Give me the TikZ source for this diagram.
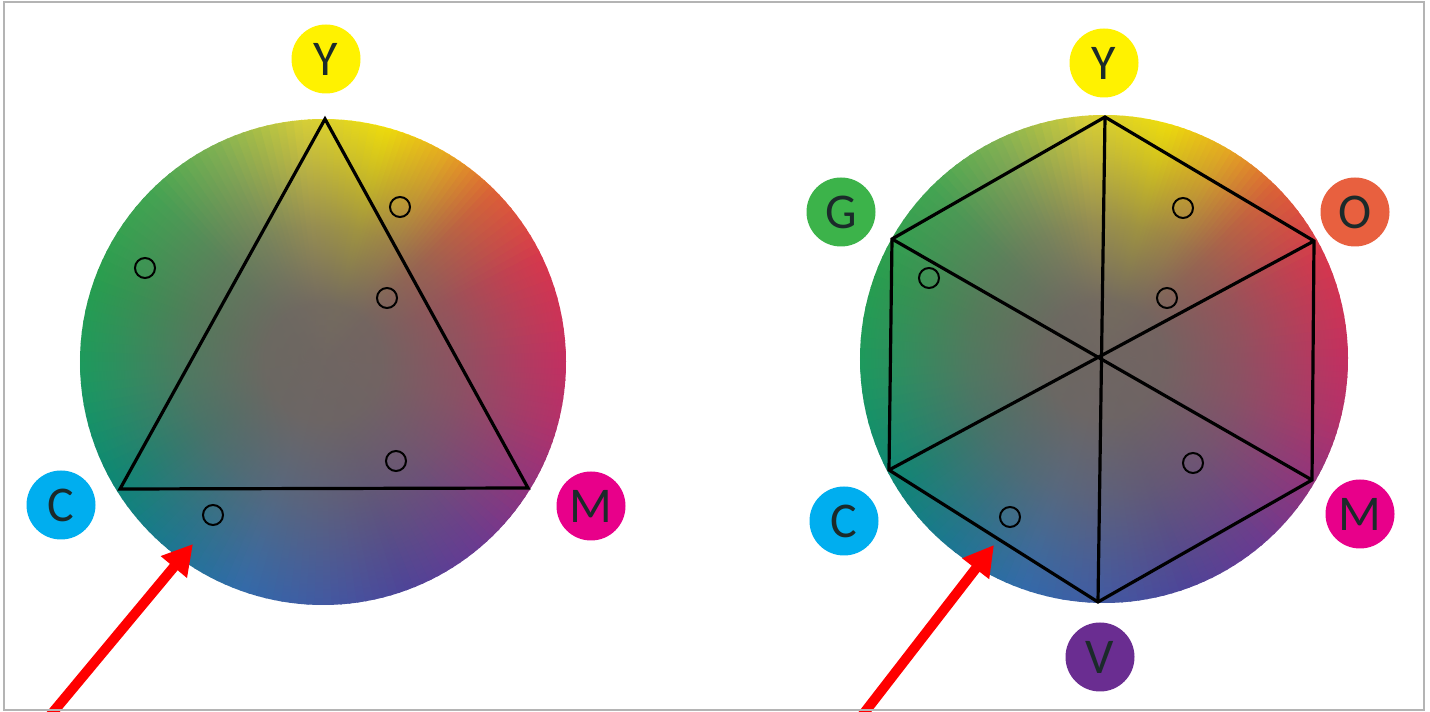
\documentclass[tikz,border=0pt]{standalone}
\usepackage{fontspec}
\setmainfont{Carlito}
\usetikzlibrary{arrows.meta,fadings}

\definecolor{labelY}{HTML}{FFF200}
\definecolor{labelC}{HTML}{00AEEF}
\definecolor{labelM}{HTML}{E8008A}
\definecolor{labelG}{HTML}{3CB34A}
\definecolor{labelO}{HTML}{E8603F}
\definecolor{labelV}{HTML}{6A2D91}
\definecolor{labelText}{HTML}{1B2A2A}
\definecolor{wheelGrey}{HTML}{6F6662}
\definecolor{frameGrey}{HTML}{B4B4B4}

% edge colours of the wheel
\definecolor{h000}{HTML}{D02860}
\definecolor{h025}{HTML}{E6304A}
\definecolor{h045}{HTML}{EC6030}
\definecolor{h060}{HTML}{F6B418}
\definecolor{h075}{HTML}{FFEC00}
\definecolor{h095}{HTML}{E4DC34}
\definecolor{h115}{HTML}{88BE50}
\definecolor{h135}{HTML}{3EAE50}
\definecolor{h160}{HTML}{1EA64C}
\definecolor{h185}{HTML}{10A060}
\definecolor{h210}{HTML}{008C78}
\definecolor{h230}{HTML}{107A98}
\definecolor{h250}{HTML}{2A6CB4}
\definecolor{h270}{HTML}{3C58AC}
\definecolor{h290}{HTML}{4A40A0}
\definecolor{h310}{HTML}{6A3498}
\definecolor{h330}{HTML}{9A2C80}
\definecolor{h345}{HTML}{BC2A6C}

% grey core, opaque in the middle, gone at the rim
\pgfdeclareradialshading{coreshade}{\pgfpointorigin}{%
  color(0bp)=(white); color(6bp)=(white!96!black);
  color(14bp)=(white!66!black); color(21bp)=(white!30!black);
  color(26bp)=(white!7!black); color(29bp)=(black); color(50bp)=(black)}
\pgfdeclarefading{corefade}{\pgfuseshading{coreshade}}

\tikzset{
  lbl/.style={circle, minimum size=69pt, inner sep=0pt, text=labelText,
    font=\fontsize{50}{50}\selectfont},
  ring/.style={circle, draw=black, line width=2pt, minimum size=20pt, inner sep=0pt},
  edge/.style={black, line width=3.2pt, line join=miter},
  pointer/.style={red, line width=10pt, -{Triangle[length=30pt,width=32pt]}}
}

\newcommand{\colourwheel}[2]{%
  \foreach \wa/\wb/\ca/\cb in {0/25/h000/h025, 25/45/h025/h045, 45/60/h045/h060,
      60/75/h060/h075, 75/95/h075/h095, 95/115/h095/h115, 115/135/h115/h135,
      135/160/h135/h160, 160/185/h160/h185, 185/210/h185/h210, 210/230/h210/h230,
      230/250/h230/h250, 250/270/h250/h270, 270/290/h270/h290, 290/310/h290/h310,
      310/330/h310/h330, 330/345/h330/h345, 345/360/h345/h000}{%
    \foreach \k in {0,...,9}{%
      \pgfmathsetmacro{\angA}{\wa+(\wb-\wa)*\k/10}
      \pgfmathsetmacro{\angB}{\wa+(\wb-\wa)*(\k+1)/10+0.6}
      \pgfmathtruncatemacro{\mixp}{10*\k+5}
      \fill[\cb!\mixp!\ca] (#1) -- ++(\angA:#2)
        arc[start angle=\angA, end angle=\angB, radius=#2] -- cycle;
    }
  }
  \fill[wheelGrey, path fading=corefade] (#1) circle[radius=#2];
}

\begin{document}
\begin{tikzpicture}[x=1pt, y=1pt]
    \useasboundingbox (0,0) rectangle (1430,712);
    \fill[white] (0,0) rectangle (1430,712);

    % left wheel, three colours
    \coordinate (lc) at (323,350);
    \colourwheel{lc}{243}
    \coordinate (ltop) at (325,593);
    \coordinate (lleft) at (120,223);
    \coordinate (lright) at (528,224);
    \draw[edge] (ltop) -- (lright) -- (lleft) -- cycle;
    \node[ring] (lr1) at (400,505) {};
    \node[ring] (lr2) at (145,444) {};
    \node[ring] (lr3) at (387,414) {};
    \node[ring] (lr4) at (396,251) {};
    \node[ring] (lr5) at (213,197) {};
    \node[lbl, fill=labelY] (lY) at (326,653) {Y};
    \node[lbl, fill=labelC] (lC) at (61,207) {C};
    \node[lbl, fill=labelM] (lM) at (591,206) {M};

    % right wheel, six colours
    \coordinate (rc) at (1104,353);
    \colourwheel{rc}{244}
    \coordinate (rmid) at (1099,354);
    \coordinate (rtop) at (1105,595);
    \coordinate (rur) at (1314,471);
    \coordinate (rlr) at (1312,232);
    \coordinate (rbot) at (1098,110);
    \coordinate (rll) at (889,242);
    \coordinate (rul) at (892,473);
    \draw[edge] (rtop) -- (rur) -- (rlr) -- (rbot) -- (rll) -- (rul) -- cycle;
    \draw[edge] (rtop) -- (rbot);
    \draw[edge] (rur) -- (rll);
    \draw[edge] (rul) -- (rlr);
    \node[ring] (rr1) at (1183,504) {};
    \node[ring] (rr2) at (929,434) {};
    \node[ring] (rr3) at (1167,414) {};
    \node[ring] (rr4) at (1193,249) {};
    \node[ring] (rr5) at (1010,195) {};
    \node[lbl, fill=labelY] (rY) at (1104,649) {Y};
    \node[lbl, fill=labelG] (rG) at (841,500) {G};
    \node[lbl, fill=labelO] (rO) at (1355,500) {O};
    \node[lbl, fill=labelC] (rC) at (844,191) {C};
    \node[lbl, fill=labelM] (rM) at (1360,198) {M};
    \node[lbl, fill=labelV] (rV) at (1100,55) {V};

    % red pointers
    \coordinate (ltail) at (49,-5);
    \coordinate (ltip) at (193,168);
    \coordinate (rtail) at (861,-5);
    \coordinate (rtip) at (994,167);
    \draw[pointer] (ltail) -- (ltip);
    \draw[pointer] (rtail) -- (rtip);

    \draw[frameGrey, line width=1.5pt] (4,2) rectangle (1424,710);
\end{tikzpicture}
\end{document}
